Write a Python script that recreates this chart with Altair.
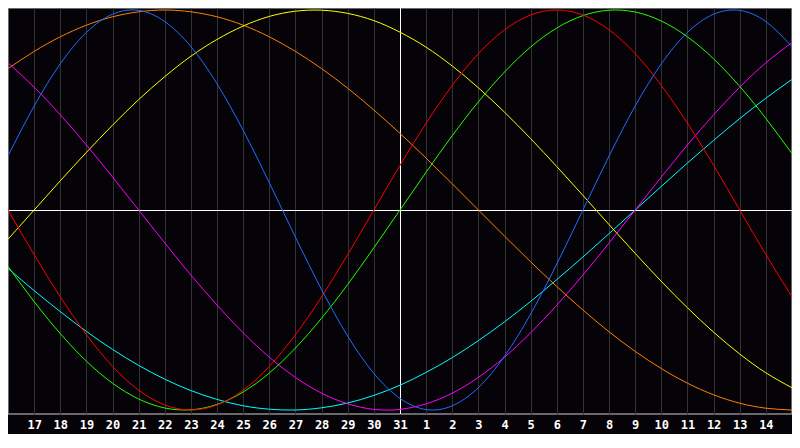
import altair as alt
import pandas as pd

# day index 0..30 (left edge = day 16, right edge = day 15 of next month)
day_index = list(range(31))
day_labels = ["16", "17", "18", "19", "20", "21", "22", "23", "24", "25", "26", "27",
              "28", "29", "30", "31", "1", "2", "3", "4", "5", "6", "7", "8", "9",
              "10", "11", "12", "13", "14", "15"]
tick_positions = list(range(1, 30))
center_index = [15]
mid_value = [0]

blue_23 = [0.270, 0.520, 0.731, 0.888, 0.979, 0.998, 0.942, 0.817, 0.631, 0.398,
           0.136, -0.136, -0.398, -0.631, -0.817, -0.942, -0.998, -0.979, -0.888,
           -0.731, -0.520, -0.270, 0.000, 0.270, 0.520, 0.731, 0.888, 0.979, 0.998,
           0.942, 0.817]
red_28 = [0.000, -0.223, -0.434, -0.623, -0.782, -0.901, -0.975, -1.000, -0.975,
          -0.901, -0.782, -0.623, -0.434, -0.223, 0.000, 0.223, 0.434, 0.623, 0.782,
          0.901, 0.975, 1.000, 0.975, 0.901, 0.782, 0.623, 0.434, 0.223, 0.000,
          -0.223, -0.434]
green_33 = [-0.282, -0.458, -0.618, -0.756, -0.866, -0.945, -0.990, -0.999, -0.972,
            -0.910, -0.815, -0.690, -0.541, -0.372, -0.189, 0.000, 0.189, 0.372,
            0.541, 0.690, 0.815, 0.910, 0.972, 0.999, 0.990, 0.945, 0.866, 0.756,
            0.618, 0.458, 0.282]
magenta_38 = [0.736, 0.614, 0.476, 0.325, 0.165, 0.000, -0.165, -0.325, -0.476,
              -0.614, -0.736, -0.837, -0.916, -0.969, -0.997, -0.997, -0.969, -0.916,
              -0.837, -0.736, -0.614, -0.476, -0.325, -0.165, 0.000, 0.165, 0.325,
              0.476, 0.614, 0.736, 0.837]
yellow_43 = [-0.146, 0.000, 0.146, 0.288, 0.424, 0.552, 0.667, 0.769, 0.853, 0.920,
             0.968, 0.994, 0.999, 0.983, 0.947, 0.889, 0.814, 0.720, 0.611, 0.489,
             0.357, 0.217, 0.073, -0.073, -0.217, -0.357, -0.489, -0.611, -0.720,
             -0.814, -0.889]
orange_48 = [0.707, 0.793, 0.866, 0.924, 0.966, 0.991, 1.000, 0.991, 0.966, 0.924,
             0.866, 0.793, 0.707, 0.609, 0.500, 0.383, 0.259, 0.131, 0.000, -0.131,
             -0.259, -0.383, -0.500, -0.609, -0.707, -0.793, -0.866, -0.924, -0.966,
             -0.991, -1.000]
cyan_53 = [-0.292, -0.403, -0.508, -0.607, -0.697, -0.777, -0.846, -0.903, -0.947,
           -0.979, -0.996, -1.000, -0.989, -0.965, -0.927, -0.876, -0.812, -0.738,
           -0.653, -0.559, -0.457, -0.348, -0.235, -0.118, 0.000, 0.118, 0.235, 0.348,
           0.457, 0.559, 0.653]

series_names = ["c53", "c48", "c43", "c38", "c33", "c28", "c23"]
series_values = [cyan_53, orange_48, yellow_43, magenta_38, green_33, red_28, blue_23]
series_colors = ["#00ffff", "#ff8000", "#ffff00", "#ff00ff", "#22ff00", "#ff0000", "#1e6eff"]

rows = []
for name, vals in zip(series_names, series_values):
    for t, v in zip(day_index, vals):
        rows.append({"t": t, "v": v, "s": name})
df = pd.DataFrame(rows)

W, H = 784, 406
xscale = alt.Scale(domain=[0, 30], nice=False, zero=False)
yscale = alt.Scale(domain=[-1.02, 1.01], nice=False, zero=False)

label_expr = "[" + ",".join("'" + d + "'" for d in day_labels) + "][datum.value]"

x_axis = alt.Axis(values=tick_positions, labelExpr=label_expr, grid=True,
                  gridColor="#323232", gridWidth=1, domain=False, ticks=False,
                  labelColor="#ffffff", labelFont="DejaVu Sans Mono",
                  labelFontSize=12, labelFontWeight="bold", labelPadding=5,
                  labelFlush=False, title=None)

lines = alt.Chart(df).mark_line(strokeWidth=1, interpolate="natural", clip=True).encode(
    x=alt.X("t:Q", scale=xscale, axis=x_axis),
    y=alt.Y("v:Q", scale=yscale, axis=None),
    color=alt.Color("s:N", scale=alt.Scale(domain=series_names, range=series_colors),
                    legend=None),
)

vline = alt.Chart(pd.DataFrame({"t": center_index, "v": mid_value})).mark_rule(
    color="#ffffff", strokeWidth=1, xOffset=0.5).encode(
    x=alt.X("t:Q", scale=xscale, axis=x_axis))
hline = alt.Chart(pd.DataFrame({"t": center_index, "v": mid_value})).mark_rule(
    color="#ffffff", strokeWidth=1, yOffset=0.5).encode(
    y=alt.Y("v:Q", scale=yscale, axis=None))

chart = alt.layer(vline, hline, lines).properties(
    width=W, height=H,
    autosize=alt.AutoSizeParams(type="none"),
    padding={"left": 0, "right": 0, "top": 0, "bottom": 20},
    background="#050308",
).configure_view(stroke="#8a8a8a", strokeWidth=1.5)

chart.save("out.html", embed_options={"renderer": "svg", "actions": False})
